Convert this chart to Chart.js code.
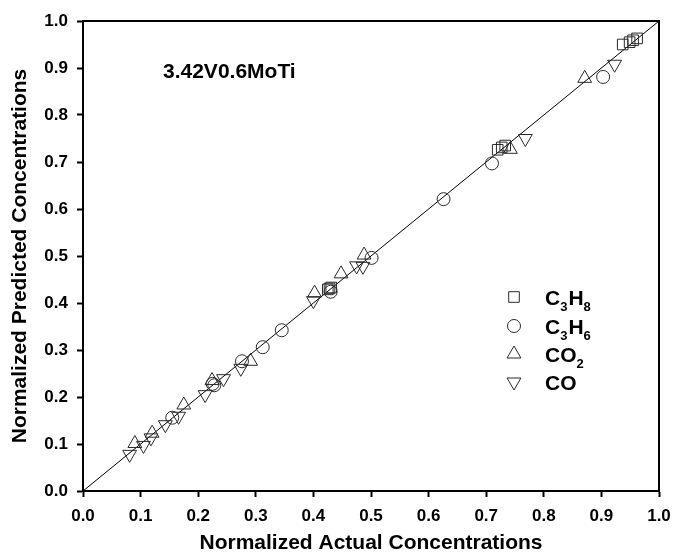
<!DOCTYPE html>
<html>
<head>
<meta charset="utf-8">
<script src="https://cdn.jsdelivr.net/npm/chart.js@4/dist/chart.umd.min.js"></script>
<style>
  html, body { margin: 0; padding: 0; background: #fff; }
  #wrap { width: 673px; height: 555px; }
</style>
</head>
<body>
<div id="wrap"><canvas id="chart" width="673" height="555"></canvas></div>
<script>
// values: [actual, predicted]
const c3h8Pts = [[0.425, 0.429], [0.428, 0.431], [0.431, 0.433], [0.720, 0.726], [0.727, 0.731],
  [0.733, 0.735], [0.937, 0.950], [0.949, 0.955], [0.955, 0.959], [0.962, 0.963]];
const c3h6Pts = [[0.155, 0.156], [0.225, 0.228], [0.228, 0.225], [0.276, 0.276], [0.312, 0.306],
  [0.345, 0.342], [0.430, 0.424], [0.501, 0.496], [0.626, 0.621], [0.710, 0.697], [0.903, 0.881]];
const co2Pts = [[0.090, 0.101], [0.120, 0.123], [0.175, 0.183], [0.224, 0.235], [0.291, 0.276],
  [0.402, 0.421], [0.448, 0.462], [0.488, 0.502], [0.742, 0.727], [0.871, 0.878]];
const coPts = [[0.081, 0.078], [0.105, 0.097], [0.118, 0.113], [0.143, 0.141], [0.166, 0.159],
  [0.212, 0.205], [0.244, 0.239], [0.274, 0.261], [0.400, 0.405], [0.475, 0.479], [0.486, 0.478],
  [0.768, 0.750], [0.923, 0.908]];
const parityLine = [[0, 0], [1, 1]];

const seriesNames = ["C3H8", "C3H6", "CO2", "CO"];
const sampleName = "3.42V0.6MoTi";
const xTitle = "Normalized Actual Concentrations";
const yTitle = "Normalized Predicted Concentrations";

const ink = "#000";
const markInk = "#2a2a2a";
const FONT = "'Liberation Sans', Arial, sans-serif";

const toXY = arr => arr.map(p => ({ x: p[0], y: p[1] }));

function scatterSet(label, pts, style, radius, rotation) {
  return {
    type: "scatter",
    label: label,
    data: toXY(pts),
    pointStyle: style,
    pointRadius: radius,
    pointRotation: rotation || 0,
    pointBorderWidth: 1,
    pointBorderColor: markInk,
    pointBackgroundColor: "rgba(0,0,0,0)",
    pointHoverRadius: radius
  };
}

// subscripted legend labels, e.g. C3H8
const legendRows = [
  { parts: [["C", 0], ["3", 1], ["H", 0], ["8", 1]], style: "rect", r: 7.5, rot: 0, y: 297 },
  { parts: [["C", 0], ["3", 1], ["H", 0], ["6", 1]], style: "circle", r: 6.5, rot: 0, y: 326 },
  { parts: [["CO", 0], ["2", 1]], style: "triangle", r: 8, rot: 0, y: 354 },
  { parts: [["CO", 0]], style: "triangle", r: 8, rot: 180, y: 382 }
];

const decorations = {
  id: "decorations",
  afterDraw(chart) {
    const ctx = chart.ctx;
    const area = chart.chartArea;
    ctx.save();

    // frame
    ctx.strokeStyle = ink;
    ctx.lineWidth = 2;
    ctx.strokeRect(area.left, area.top, area.right - area.left, area.bottom - area.top);

    // sample label
    ctx.fillStyle = ink;
    ctx.font = "bold 21px " + FONT;
    ctx.textBaseline = "middle";
    ctx.textAlign = "left";
    ctx.fillText(sampleName, 163, 72);

    // legend
    legendRows.forEach(row => {
      ctx.fillStyle = "rgba(0,0,0,0)";
      ctx.strokeStyle = markInk;
      ctx.lineWidth = 1;
      Chart.helpers.drawPoint(ctx, {
        pointStyle: row.style, rotation: row.rot, radius: row.r, borderWidth: 1
      }, 514, row.y);

      ctx.fillStyle = ink;
      ctx.textBaseline = "alphabetic";
      let x = 545;
      const base = row.y + 8;
      row.parts.forEach(([txt, sub]) => {
        ctx.font = sub ? "bold 13px " + FONT : "bold 21px " + FONT;
        ctx.fillText(txt, x, sub ? base + 6 : base);
        x += ctx.measureText(txt).width + (sub ? 1 : 0);
      });
    });
    ctx.restore();
  }
};

new Chart(document.getElementById("chart"), {
  data: {
    datasets: [
      scatterSet(seriesNames[0], c3h8Pts, "rect", 7.5),
      scatterSet(seriesNames[1], c3h6Pts, "circle", 6.5),
      scatterSet(seriesNames[2], co2Pts, "triangle", 8),
      scatterSet(seriesNames[3], coPts, "triangle", 8, 180),
      {
        type: "line",
        label: "y = x",
        data: toXY(parityLine),
        borderColor: ink,
        borderWidth: 1,
        pointRadius: 0,
        fill: false
      }
    ]
  },
  options: {
    responsive: false,
    animation: false,
    events: [],
    layout: { padding: { top: 21, right: 14, left: 0, bottom: 0 } },
    plugins: {
      legend: { display: false },
      tooltip: { enabled: false }
    },
    scales: {
      x: {
        type: "linear",
        min: 0,
        max: 1,
        afterFit: s => { s.height = 64; s.paddingLeft = 0; s.paddingRight = 0; },
        grid: { drawOnChartArea: false, drawTicks: true, tickLength: 6, tickWidth: 2, tickColor: ink },
        border: { display: true, color: ink, width: 2 },
        ticks: {
          stepSize: 0.1,
          padding: 9,
          color: ink,
          font: { family: FONT, size: 17, weight: "bold" },
          callback: v => v.toFixed(1),
          maxRotation: 0
        },
        title: {
          display: true,
          text: xTitle,
          color: ink,
          font: { family: FONT, size: 21, weight: "bold", lineHeight: 1.15 },
          padding: { top: 0, bottom: 0 }
        }
      },
      y: {
        type: "linear",
        min: 0,
        max: 1,
        afterFit: s => { s.width = 83; s.paddingTop = 0; s.paddingBottom = 0; },
        grid: { drawOnChartArea: false, drawTicks: true, tickLength: 6, tickWidth: 2, tickColor: ink },
        border: { display: true, color: ink, width: 2 },
        ticks: {
          stepSize: 0.1,
          padding: 9,
          color: ink,
          font: { family: FONT, size: 17, weight: "bold" },
          callback: v => v.toFixed(1)
        },
        title: {
          display: true,
          text: yTitle,
          color: ink,
          font: { family: FONT, size: 21, weight: "bold", lineHeight: 1.15 },
          padding: { top: 8, bottom: 0 }
        }
      }
    }
  },
  plugins: [decorations]
});
</script>
</body>
</html>
